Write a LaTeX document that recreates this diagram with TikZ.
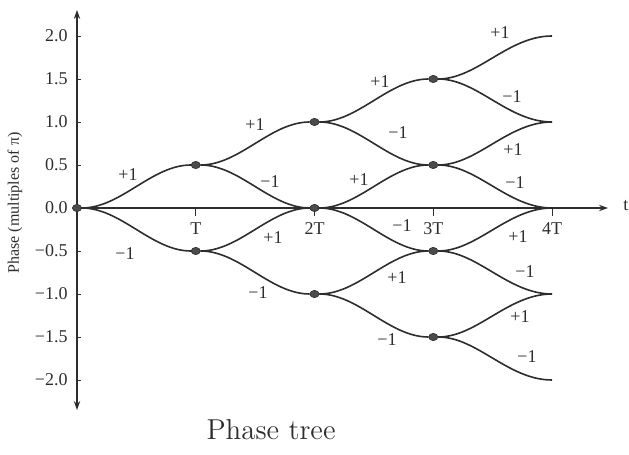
\documentclass[tikz,border=0pt]{standalone}
\usepackage{fontspec}
\newfontfamily\timesfont{Liberation Serif}
\usetikzlibrary{arrows.meta, positioning, shapes.geometric}
\definecolor{ink}{RGB}{45,45,45}
\definecolor{dotgray}{RGB}{75,75,75}

\tikzset{
  branch/.style={ink, line width=0.8pt},
  axis/.style={ink, line width=0.6pt},
  phasedot/.style={ellipse, fill=dotgray, draw=ink, line width=0.3pt,
    minimum width=4.6pt, minimum height=3.6pt, inner sep=0pt},
  sign/.style={font=\timesfont\fontsize{9}{10}\selectfont, text=ink, inner sep=0pt},
  ticklbl/.style={font=\timesfont\fontsize{9}{10}\selectfont, text=ink, inner sep=0pt}
}

\begin{document}
\begin{tikzpicture}[x=59.375pt, y=43pt, >={Stealth[length=4.5pt, width=3.2pt]}]
  \useasboundingbox (-0.6484,-2.8605) rectangle (4.6484,2.4186);
  % Axes
  \coordinate (orig) at (0,0);
  \coordinate (ytop) at (0,2.302);
  \coordinate (ybot) at (0,-2.349);
  \coordinate (xend) at (4.4716,0);
  \draw[axis, <->] (ybot) -- (ytop);
  \draw[axis, ->] (orig) -- (xend);
  \node[ticklbl, anchor=west] (tname) at (4.598,0.03) {t};
  \node[font=\timesfont\fontsize{8}{9}\selectfont, text=ink, rotate=90] (ytitle)
    at (-0.522,0.058) {Phase (multiples of π)};
  % Phase ticks
  \foreach \v/\t [count=\i] in {2.0/2.0, 1.5/1.5, 1.0/1.0, 0.5/0.5, 0.0/0.0,
      -0.5/−0.5, -1.0/−1.0, -1.5/−1.5, -2.0/−2.0} {
    \draw[axis, line width=0.4pt] (0,\v) -- ++(2pt,0);
    \node[ticklbl, anchor=east, xshift=-4.5pt] (y\i) at (0,\v) {\t};
  }
  % Time ticks
  \foreach \k/\t in {1/T, 2/2T, 3/3T, 4/4T} {
    \draw[axis, line width=0.4pt] (\k,0) -- ++(0,-4pt);
    \node[ticklbl, anchor=north, yshift=-7pt] (x\k) at (\k,0) {\t};
  }
  % Tree nodes
  \node[phasedot] (p0) at (0,0) {};
  \node[phasedot] (p1u) at (1,0.5) {};
  \node[phasedot] (p1d) at (1,-0.5) {};
  \node[phasedot] (p2u) at (2,1) {};
  \node[phasedot] (p2m) at (2,0) {};
  \node[phasedot] (p2d) at (2,-1) {};
  \node[phasedot] (p3a) at (3,1.5) {};
  \node[phasedot] (p3b) at (3,0.5) {};
  \node[phasedot] (p3c) at (3,-0.5) {};
  \node[phasedot] (p3d) at (3,-1.5) {};
  \coordinate (e4a) at (4,2);
  \coordinate (e4b) at (4,1);
  \coordinate (e4c) at (4,0);
  \coordinate (e4d) at (4,-1);
  \coordinate (e4e) at (4,-2);
  % Branches
  \foreach \a/\b in {p0/p1u, p0/p1d, p1u/p2u, p1u/p2m, p1d/p2m, p1d/p2d,
      p2u/p3a, p2u/p3b, p2m/p3b, p2m/p3c, p2d/p3c, p2d/p3d,
      p3a/e4a, p3a/e4b, p3b/e4b, p3b/e4c, p3c/e4c, p3c/e4d, p3d/e4d, p3d/e4e}
    \draw[branch] (\a) .. controls +(0.37,0) and +(-0.37,0) .. (\b);
  % Symbol labels
  \foreach \u/\v/\s [count=\i] in {0.429/0.384/+1, 0.404/-0.535/−1,
      1.499/0.965/+1, 1.625/0.302/−1, 1.651/-0.349/+1, 1.524/-0.988/−1,
      2.552/1.465/+1, 2.703/0.872/−1, 2.375/0.326/+1, 2.737/-0.209/−1,
      2.695/-0.814/+1, 2.611/-1.535/−1,
      3.562/2.035/+1, 3.663/1.291/−1, 3.672/0.674/+1, 3.688/0.291/−1,
      3.714/-0.337/+1, 3.773/-0.744/−1, 3.731/-1.267/+1, 3.789/-1.733/−1}
    \node[sign] (s\i) at (\u,\v) {\s};
  % Caption
  \node[font=\fontsize{14.4}{17}\selectfont, text=ink] (caption) at (1.634,-2.581) {Phase tree};
\end{tikzpicture}
\end{document}
